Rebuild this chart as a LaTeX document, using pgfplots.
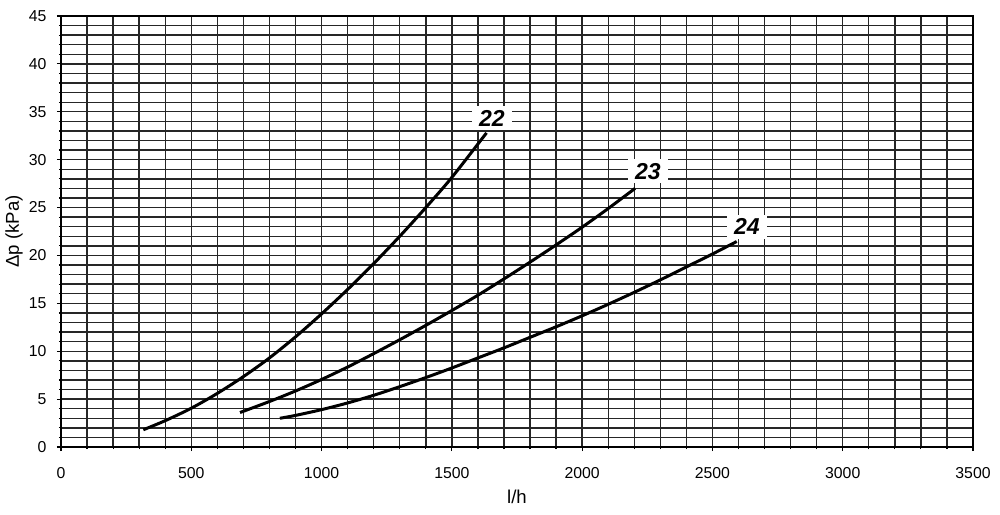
\documentclass[border=0pt]{standalone}
\usepackage{fontspec}
\setmainfont{Liberation Sans}
\usepackage{pgfplots}
\pgfplotsset{compat=1.18}
\begin{document}
\begin{tikzpicture}
\begin{axis}[
  scale only axis, width=456pt, height=215.5pt,
  xmin=0, xmax=3500, ymin=0, ymax=45,
  xtick={0,500,...,3500}, ytick={0,5,...,45},
  minor x tick num=4, minor y tick num=4,
  grid=both,
  major grid style={black!85, line width=0.7pt},
  minor grid style={black!85, line width=0.7pt},
  tick align=outside, major tick length=2pt, minor tick length=1pt,
  tick style={black, line width=0.6pt},
  xtick pos=left, ytick pos=left,
  axis line style={black, line width=0.7pt},
  /pgf/number format/assume math mode=true,
  /pgf/number format/1000 sep={},
  ticklabel style={font=\fontsize{7.9}{9}\selectfont},
  xticklabel style={yshift=-4.5pt},
  yticklabel style={xshift=-1.8pt},
  xlabel={l/h}, ylabel={Δp (kPa)},
  label style={font=\fontsize{9.3}{11}\selectfont},
  xlabel style={at={(axis description cs:0.5,0)}, anchor=center, yshift=-25pt},
  ylabel style={at={(axis description cs:-0.0515,0.5)}, anchor=center},
  clip=false,
]
\coordinate (ll) at (rel axis cs:0,0);
\coordinate (ur) at (rel axis cs:1,1);
\addplot[black, line width=1.5pt, smooth] coordinates {
(316,1.8) (400,2.75) (500,4.05) (600,5.6) (700,7.35) (800,9.3) (900,11.5) (1000,13.9) (1100,16.45) (1200,19.15) (1300,22.0) (1400,25.0) (1500,28.15) (1633,32.8)};
\addplot[black, line width=1.5pt, smooth] coordinates {
(687,3.6) (800,4.75) (900,5.85) (1000,7.05) (1100,8.35) (1200,9.75) (1300,11.2) (1400,12.7) (1500,14.25) (1600,15.85) (1700,17.55) (1800,19.3) (1900,21.1) (2000,22.95) (2100,24.9) (2203,27.0)};
\addplot[black, line width=1.5pt, smooth] coordinates {
(840,3.0) (900,3.3) (1000,3.9) (1100,4.6) (1200,5.4) (1300,6.3) (1400,7.25) (1500,8.25) (1600,9.3) (1700,10.35) (1800,11.45) (1900,12.55) (2000,13.7) (2100,14.9) (2200,16.15) (2300,17.45) (2400,18.8) (2500,20.15) (2593,21.45)};
\node[fill=white, inner xsep=3.5pt, inner ysep=2pt, font=\fontsize{11.5}{13}\selectfont\bfseries\itshape] at (axis cs:1654,34.35) {22};
\node[fill=white, inner xsep=3.5pt, inner ysep=2pt, font=\fontsize{11.5}{13}\selectfont\bfseries\itshape] at (axis cs:2252,28.8) {23};
\node[fill=white, inner xsep=3.5pt, inner ysep=2pt, font=\fontsize{11.5}{13}\selectfont\bfseries\itshape] at (axis cs:2632,23.0) {24};
\end{axis}
\pgfresetboundingbox
\path[use as bounding box] ([xshift=-30.5pt,yshift=-33.5pt]ll) rectangle ([xshift=13.5pt,yshift=8pt]ur);
\end{tikzpicture}
\end{document}
